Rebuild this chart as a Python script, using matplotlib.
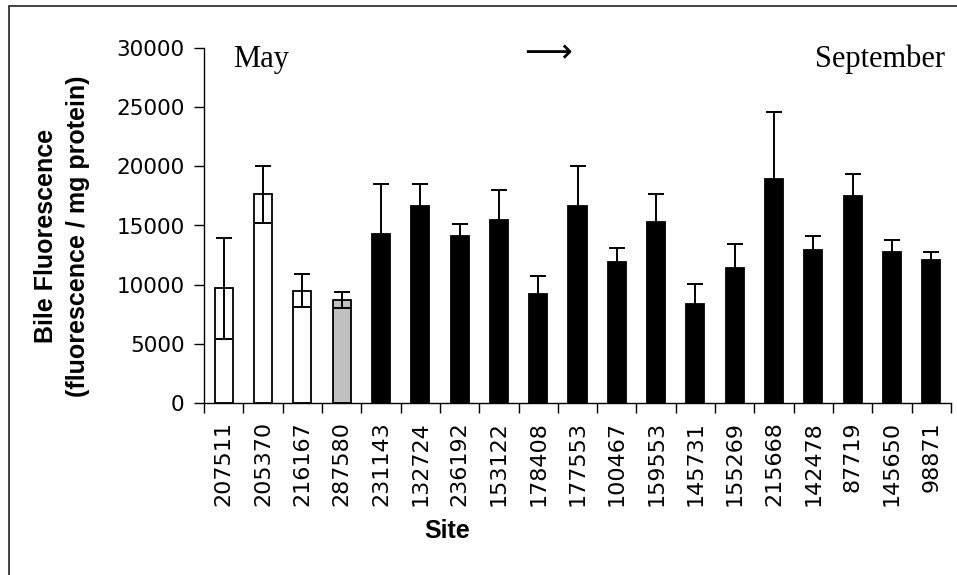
import numpy as np
import matplotlib
matplotlib.use("Agg")
import matplotlib.pyplot as plt
from matplotlib.patches import Rectangle

sites = ["207511", "205370", "216167", "287580", "231143", "132724", "236192",
         "153122", "178408", "177553", "100467", "159553", "145731", "155269",
         "215668", "142478", "87719", "145650", "98871"]
means = [9700, 17650, 9500, 8700, 14300, 16650, 14150, 15500, 9250, 16650,
         11950, 15300, 8400, 11450, 18900, 12950, 17500, 12800, 12100]
errs = [4250, 2400, 1370, 650, 4200, 1820, 970, 2500, 1500, 3380,
        1150, 2330, 1690, 2000, 5700, 1160, 1860, 990, 650]
# fill per site: early sites white, reference site grey, the rest black
fills = ["white", "white", "white", "#C0C0C0"] + ["black"] * 15

W, H = 957, 575
fig = plt.figure(figsize=(W / 100, H / 100), dpi=100, facecolor="white")
ax = fig.add_axes([204 / W, 1 - 403 / H, (951 - 204) / W, (403 - 48) / H])

x = np.arange(len(sites))
ax.bar(x, means, width=0.46, color=fills, edgecolor="black", linewidth=1.3, zorder=2)
ax.errorbar(x, means, yerr=errs, fmt="none", ecolor="black", elinewidth=1.4,
            capsize=6, capthick=1.4, zorder=3)

ax.set_xlim(-0.5, len(sites) - 0.5)
ax.set_ylim(0, 30000)
ax.set_yticks(np.arange(0, 30001, 5000))
ax.set_yticklabels([str(v) for v in range(0, 30001, 5000)], family="DejaVu Sans", fontsize=15.5)
ax.set_xticks(x)
ax.set_xticklabels(sites, rotation=90, family="DejaVu Sans", fontsize=16)
ax.set_xticks(np.arange(-0.5, len(sites)), minor=True)
ax.tick_params(axis="x", which="major", length=0, pad=13)
ax.tick_params(axis="x", which="minor", length=7, width=1, direction="out")
ax.tick_params(axis="y", length=7, width=1, direction="out", pad=7)
for s in ["top", "right"]:
    ax.spines[s].set_visible(False)
for s in ["left", "bottom"]:
    ax.spines[s].set_linewidth(1)

fig.text(62 / W, 1 - 236 / H, "Bile Fluorescence\n(fluorescence / mg protein)",
         rotation=90, ha="center", va="center", family="Liberation Sans",
         fontweight="bold", fontsize=18, linespacing=1.4, multialignment="center")
fig.text(447 / W, 1 - 531 / H, "Site", ha="center", va="center",
         family="Liberation Sans", fontweight="bold", fontsize=18)

fig.text(233 / W, 1 - 67 / H, "May", ha="left", va="baseline",
         family=["Liberation Serif", "DejaVu Serif"], fontsize=22)
fig.text(548 / W, 1 - 53 / H, "\u27f6", ha="center", va="center",
         family=["DejaVu Sans", "DejaVu Serif"], fontsize=24)
fig.text(945 / W, 1 - 67 / H, "September", ha="right", va="baseline",
         family=["Liberation Serif", "DejaVu Serif"], fontsize=22)

# outer frame, running off the right and bottom edges
fig.patches.append(Rectangle((9 / W, -0.1), 1.2, 1.1 - 6 / H, transform=fig.transFigure,
                             fill=False, edgecolor="#222222", linewidth=1.2))

fig.savefig("out.png", dpi=100, facecolor="white")
